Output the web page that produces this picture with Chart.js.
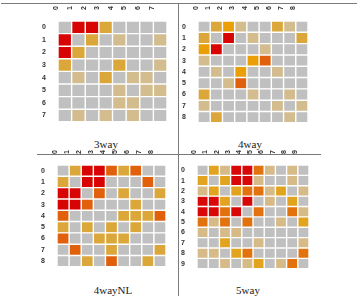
<!DOCTYPE html>
<html>
<head>
<meta charset="utf-8">
<script src="https://cdn.jsdelivr.net/npm/chart.js@4/dist/chart.umd.min.js"></script>
<style>
  html, body { margin: 0; padding: 0; background: #fff; }
  body { width: 358px; height: 296px; position: relative; overflow: hidden; }
  .box { position: absolute; }
  .line { position: absolute; background: #7a7a7a; }
  .title { position: absolute; font-family: "Liberation Serif", "DejaVu Serif", serif; font-size: 11px; color: #222; transform: translateX(-50%); white-space: nowrap; line-height: 1; }
</style>
</head>
<body>
<div class="line" style="left:1px;top:3px;width:356px;height:1px;"></div>
<div class="line" style="left:178px;top:3px;width:1px;height:293px;"></div>
<div class="line" style="left:37px;top:154px;width:284px;height:1px;"></div>

<div class="title" style="left:106px;top:139px;">3way</div>
<div class="title" style="left:250px;top:139px;">4way</div>
<div class="title" style="left:113px;top:285px;">4wayNL</div>
<div class="title" style="left:248px;top:285px;">5way</div>

<div class="box" style="left:40px;top:5px;width:127px;height:125px;"><canvas id="c1"></canvas></div>
<div class="box" style="left:180px;top:5px;width:128px;height:126px;"><canvas id="c2"></canvas></div>
<div class="box" style="left:39px;top:149px;width:127px;height:126px;"><canvas id="c3"></canvas></div>
<div class="box" style="left:179px;top:149px;width:130px;height:128px;"><canvas id="c4"></canvas></div>

<script>
// Tick labels
const labels8 = ['0','1','2','3','4','5','6','7'];
const labels9 = ['0','1','2','3','4','5','6','7','8'];
const labels10 = ['0','1','2','3','4','5','6','7','8','9'];

// Interaction levels per cell: 0 none, 1 weak, 2 moderate, 3 strong, 4 very strong, 5 strongest
const way3 = [
  [0,5,5,2,0,0,0,0],
  [5,0,2,0,1,0,0,1],
  [5,2,0,0,0,0,0,0],
  [2,0,0,0,2,0,0,1],
  [0,1,0,2,0,1,1,0],
  [0,0,0,0,1,0,1,1],
  [0,0,0,0,1,1,0,0],
  [0,1,0,1,0,1,0,0]
];
const way4 = [
  [0,2,3,1,0,0,2,1,0],
  [2,0,5,0,1,0,0,0,2],
  [3,5,0,0,0,1,0,0,0],
  [1,0,0,0,3,4,0,0,0],
  [0,1,0,3,0,0,1,0,0],
  [0,0,1,4,0,0,0,0,0],
  [2,0,0,0,1,0,0,1,0],
  [1,0,0,0,0,0,1,0,1],
  [0,2,0,0,0,0,0,1,0]
];
const way4NL = [
  [0,2,5,5,4,2,4,0,0],
  [2,0,5,5,0,0,0,4,0],
  [5,5,0,4,0,2,0,0,2],
  [5,5,4,0,0,0,2,0,0],
  [4,0,0,0,0,2,2,2,4],
  [2,0,2,0,2,0,2,0,0],
  [4,0,0,2,2,2,0,0,0],
  [0,4,0,0,2,0,0,0,2],
  [0,0,2,0,4,0,0,2,0]
];
const way5 = [
  [0,2,1,5,5,4,1,0,1,0],
  [2,0,2,5,5,1,0,0,1,0],
  [1,2,0,2,4,4,1,2,0,1],
  [5,5,2,0,5,0,1,0,2,0],
  [5,5,4,5,0,4,0,0,4,1],
  [4,1,4,0,4,0,0,1,0,2],
  [1,0,1,1,0,0,0,0,0,0],
  [0,0,2,0,0,1,0,0,0,1],
  [1,1,0,2,4,0,0,0,0,4],
  [0,0,1,0,1,2,0,1,4,0]
];

const palette = ['#c0c0c0', '#d3bc8d', '#dca73a', '#e99f05', '#e0600c', '#d80404'];
const palette5 = ['#c0c0c0', '#d6bb88', '#e2a41e', '#e99f05', '#e2720e', '#d80808'];

function heat(id, matrix, labels, pal) {
  const n = labels.length;
  const datasets = matrix.map((row, r) => ({
    label: 'row ' + labels[r],
    data: row.map(() => 1),
    backgroundColor: row.map(v => pal[v]),
    borderColor: '#ffffff',
    borderWidth: 0.7,
    borderSkipped: false,
    inflateAmount: 0,
    barPercentage: 1,
    categoryPercentage: 1
  }));
  const tickFont = { family: '"Liberation Sans", Arial, sans-serif', size: 7, weight: 'bold' };
  new Chart(document.getElementById(id), {
    type: 'bar',
    data: { labels: labels, datasets: datasets },
    options: {
      responsive: true,
      maintainAspectRatio: false,
      animation: false,
      devicePixelRatio: 1,
      layout: { padding: 0 },
      plugins: { legend: { display: false }, tooltip: { enabled: false }, title: { display: false } },
      scales: {
        x: {
          type: 'category',
          position: 'top',
          stacked: true,
          grid: { display: false },
          border: { display: false },
          ticks: { minRotation: 90, maxRotation: 90, padding: 3, color: '#333', font: tickFont, autoSkip: false },
          afterFit(s) { s.height = 16; }
        },
        y: {
          type: 'linear',
          stacked: true,
          reverse: true,
          min: 0,
          max: n,
          grid: { display: false },
          border: { display: false },
          afterBuildTicks(s) { s.ticks = labels.map((l, i) => ({ value: i + 0.5 })); },
          ticks: { padding: 4, color: '#333', font: tickFont, autoSkip: false, callback: (v, i) => labels[i] },
          afterFit(s) { s.width = 18; }
        }
      }
    }
  });
}

heat('c1', way3, labels8, palette);
heat('c2', way4, labels9, palette);
heat('c3', way4NL, labels9, palette);
heat('c4', way5, labels10, palette5);
</script>
</body>
</html>
